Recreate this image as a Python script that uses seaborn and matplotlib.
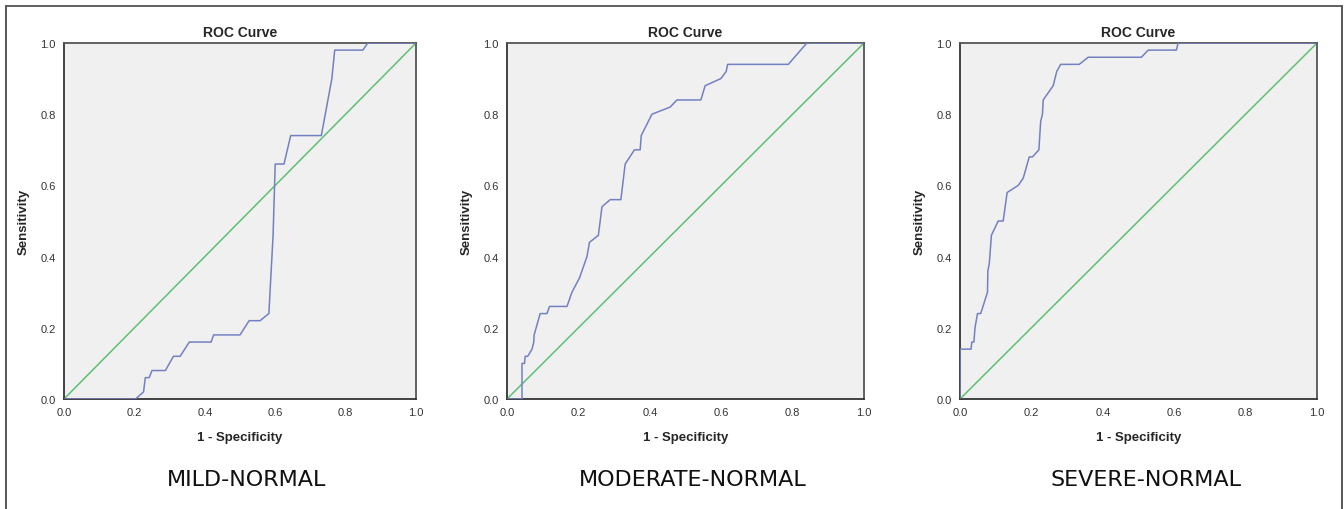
import numpy as np
import pandas as pd
import matplotlib
matplotlib.use("Agg")
import matplotlib.pyplot as plt
from matplotlib.lines import Line2D
import seaborn as sns

# ---------------------------------------------------------------
# Data (1 - specificity, sensitivity)
# ---------------------------------------------------------------
mild_fpr = [0.0, 0.203, 0.226, 0.231, 0.242, 0.25, 0.288, 0.311, 0.33, 0.356, 0.418,
            0.425, 0.5, 0.526, 0.557, 0.582, 0.594, 0.6, 0.625, 0.644, 0.731, 0.761,
            0.769, 0.849, 0.863, 1.0]
mild_tpr = [0.0, 0.0, 0.02, 0.06, 0.06, 0.08, 0.08, 0.12, 0.12, 0.16, 0.16,
            0.18, 0.18, 0.22, 0.22, 0.24, 0.46, 0.66, 0.66, 0.74, 0.74, 0.90,
            0.98, 0.98, 1.0, 1.0]

moderate_fpr = [0.0, 0.042, 0.042, 0.049, 0.051, 0.058, 0.07, 0.075, 0.076, 0.093, 0.112,
                0.119, 0.168, 0.182, 0.203, 0.224, 0.231, 0.256, 0.266, 0.289, 0.319,
                0.331, 0.357, 0.373, 0.376, 0.406, 0.457, 0.476, 0.543, 0.555, 0.599,
                0.614, 0.618, 0.788, 0.84, 1.0]
moderate_tpr = [0.0, 0.0, 0.10, 0.10, 0.12, 0.12, 0.14, 0.16, 0.18, 0.24, 0.24,
                0.26, 0.26, 0.30, 0.34, 0.40, 0.44, 0.46, 0.54, 0.56, 0.56,
                0.66, 0.70, 0.70, 0.74, 0.80, 0.82, 0.84, 0.84, 0.88, 0.90,
                0.92, 0.94, 0.94, 1.0, 1.0]

severe_fpr = [0.0, 0.0, 0.031, 0.033, 0.039, 0.042, 0.049, 0.058, 0.077, 0.078, 0.082,
              0.088, 0.107, 0.121, 0.132, 0.163, 0.177, 0.194, 0.203, 0.221, 0.226,
              0.231, 0.233, 0.261, 0.271, 0.282, 0.334, 0.359, 0.508, 0.527, 0.606,
              0.611, 1.0]
severe_tpr = [0.0, 0.14, 0.14, 0.16, 0.16, 0.20, 0.24, 0.24, 0.30, 0.36, 0.38,
              0.46, 0.50, 0.50, 0.58, 0.60, 0.62, 0.68, 0.68, 0.70, 0.78,
              0.80, 0.84, 0.88, 0.92, 0.94, 0.94, 0.96, 0.96, 0.98, 0.98,
              1.0, 1.0]

panel_names = ["MILD-NORMAL", "MODERATE-NORMAL", "SEVERE-NORMAL"]
curves = [(mild_fpr, mild_tpr), (moderate_fpr, moderate_tpr), (severe_fpr, severe_tpr)]
ref_line = [0.0, 1.0]
ticks = [0.0, 0.2, 0.4, 0.6, 0.8, 1.0]

# ---------------------------------------------------------------
# Figure
# ---------------------------------------------------------------
sns.set_style("white")
plt.rcParams['font.family'] = ['Liberation Sans', 'DejaVu Sans']

W, H = 1344, 510
fig = plt.figure(figsize=(W / 100, H / 100), dpi=100)

# axes boxes in pixels: (left, right) ; top=44, bottom=400
boxes = [(64, 416), (507, 864), (960, 1317)]
top_px, bot_px = 44, 400

curve_color = "#7381c2"
diag_color = "#5fbf72"

for (l, r), (fpr, tpr), name in zip(boxes, curves, panel_names):
    ax = fig.add_axes([l / W, 1 - bot_px / H, (r - l) / W, (bot_px - top_px) / H])
    ax.set_facecolor("#f0f0f0")
    df = pd.DataFrame({"fpr": fpr, "tpr": tpr})
    sns.lineplot(data=df, x="fpr", y="tpr", sort=False, estimator=None,
                 color=curve_color, linewidth=1.1, ax=ax, zorder=3)
    sns.lineplot(x=ref_line, y=ref_line, color=diag_color, linewidth=1.1, ax=ax, zorder=2)
    ax.set_xlim(0, 1)
    ax.set_ylim(0, 1)
    ax.set_xticks(ticks)
    ax.set_yticks(ticks)
    ax.set_xticklabels([f"{t:.1f}" for t in ticks])
    ax.set_yticklabels([f"{t:.1f}" for t in ticks])
    ax.tick_params(direction="out", length=4, width=1, color="#333333",
                   labelsize=8, pad=2, labelcolor="#333333")
    for s in ax.spines.values():
        s.set_color("#555555")
        s.set_linewidth(1.3)
    ax.spines["left"].set_color("#333333")
    ax.spines["bottom"].set_color("#333333")
    ax.set_title("ROC Curve", fontsize=10, fontweight="bold", pad=5)
    ax.set_xlabel("1 - Specificity", fontsize=9.5, fontweight="bold", labelpad=10)
    ax.set_ylabel("Sensitivity", fontsize=9.5, fontweight="bold", labelpad=8)
    ax.text(0.52, -0.225, name, transform=ax.transAxes, ha="center", va="center",
            fontsize=16, family=['DejaVu Sans'], color="#111111")

# outer frame (top, left, right)
fig.add_artist(Line2D([6 / W, 1342 / W], [1 - 7 / H, 1 - 7 / H], color="#444444", lw=1.2))
fig.add_artist(Line2D([6 / W, 6 / W], [0, 1 - 7 / H], color="#555555", lw=1.4))
fig.add_artist(Line2D([1342 / W, 1342 / W], [0, 1 - 7 / H], color="#555555", lw=1.4))

fig.savefig("out.png", dpi=100, facecolor="white")
